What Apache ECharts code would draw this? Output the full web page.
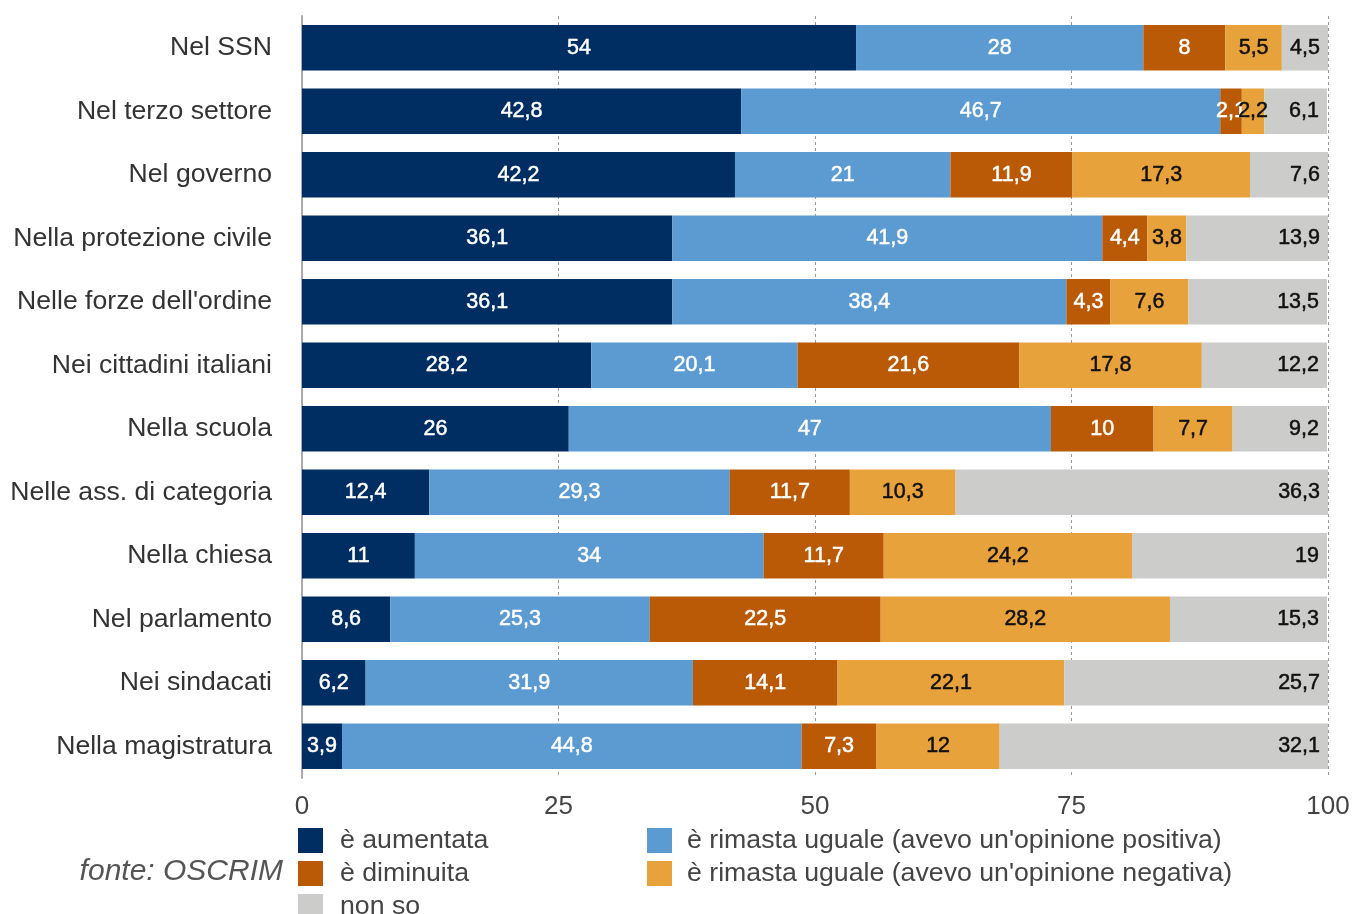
<!DOCTYPE html>
<html>
<head>
<meta charset="utf-8">
<script src="https://cdn.jsdelivr.net/npm/echarts@6/dist/echarts.min.js"></script>
<style>
  html, body { margin: 0; padding: 0; background: #fff; }
  #chart { width: 1354px; height: 914px; }
</style>
</head>
<body>
<div id="chart"></div>
<script>
// Fiducia nelle istituzioni: come è cambiata (%)
const categories = [
  'Nel SSN', 'Nel terzo settore', 'Nel governo', 'Nella protezione civile',
  "Nelle forze dell'ordine", 'Nei cittadini italiani', 'Nella scuola',
  'Nelle ass. di categoria', 'Nella chiesa', 'Nel parlamento',
  'Nei sindacati', 'Nella magistratura'
];
const aumentata   = [54, 42.8, 42.2, 36.1, 36.1, 28.2, 26, 12.4, 11, 8.6, 6.2, 3.9];
const ugualePos   = [28, 46.7, 21, 41.9, 38.4, 20.1, 47, 29.3, 34, 25.3, 31.9, 44.8];
const diminuita   = [8, 2.1, 11.9, 4.4, 4.3, 21.6, 10, 11.7, 11.7, 22.5, 14.1, 7.3];
const ugualeNeg   = [5.5, 2.2, 17.3, 3.8, 7.6, 17.8, 7.7, 10.3, 24.2, 28.2, 22.1, 12];
const nonSo       = [4.5, 6.1, 7.6, 13.9, 13.5, 12.2, 9.2, 36.3, 19, 15.3, 25.7, 32.1];
const axisTicks   = [0, 25, 50, 75, 100];

const seriesNames = [
  'è aumentata',
  "è rimasta uguale (avevo un'opinione positiva)",
  'è diminuita',
  "è rimasta uguale (avevo un'opinione negativa)",
  'non so'
];
const seriesData = [aumentata, ugualePos, diminuita, ugualeNeg, nonSo];
const colors = ['#002D62', '#5B9BD2', '#BA5A06', '#E8A23C', '#CCCCCB'];
const labelColors = ['#ffffff', '#ffffff', '#ffffff', '#111111', '#111111'];

const FONT = '"Liberation Sans", Arial, Helvetica, sans-serif';
const fmt = v => String(v).replace('.', ',');

const chart = echarts.init(document.getElementById('chart'));

const series = seriesData.map((data, i) => ({
  name: seriesNames[i],
  type: 'bar',
  stack: 'tot',
  data: data,
  barCategoryGap: '28%',
  itemStyle: { color: colors[i] },
  label: {
    show: true,
    position: i === 4 ? 'insideRight' : 'inside',
    distance: 8,
    color: labelColors[i],
    textBorderColor: labelColors[i],
    textBorderWidth: 0.5,
    fontFamily: FONT,
    fontSize: 21.5,
    formatter: p => fmt(p.value)
  }
}));

const legendText = { color: '#444', fontSize: 26.7, fontFamily: FONT };

chart.setOption({
  animation: false,
  backgroundColor: '#ffffff',
  color: colors,
  textStyle: { fontFamily: FONT },
  grid: { left: 302, right: 26, top: 16, bottom: 136, containLabel: false },
  xAxis: {
    type: 'value',
    min: axisTicks[0],
    max: axisTicks[axisTicks.length - 1],
    interval: 25,
    axisLine: { show: false },
    axisTick: { show: false },
    axisLabel: {
      color: '#444',
      fontSize: 26,
      fontFamily: FONT,
      margin: 16
    },
    splitLine: {
      show: true,
      lineStyle: { color: '#999', type: [3, 3], width: 1 }
    }
  },
  yAxis: {
    type: 'category',
    data: categories,
    inverse: true,
    axisLine: { show: true, lineStyle: { color: '#aaa', width: 2 } },
    axisTick: { show: false },
    axisLabel: {
      color: '#333',
      fontSize: 26.6,
      fontFamily: FONT,
      margin: 30
    }
  },
  legend: [
    {
      data: [seriesNames[0], seriesNames[2], seriesNames[4]],
      orient: 'horizontal',
      left: 298,
      top: 827,
      width: 240,
      padding: 0,
      itemWidth: 25,
      itemHeight: 25,
      itemGap: 6,
      icon: 'rect',
      selectedMode: false,
      textStyle: Object.assign({ padding: [0, 0, 0, 12] }, legendText)
    },
    {
      data: [seriesNames[1], seriesNames[3]],
      orient: 'horizontal',
      left: 647,
      top: 827,
      width: 640,
      padding: 0,
      itemWidth: 25,
      itemHeight: 25,
      itemGap: 6,
      icon: 'rect',
      selectedMode: false,
      textStyle: Object.assign({ padding: [0, 0, 0, 10] }, legendText)
    }
  ],
  graphic: [{
    type: 'text',
    right: 1354 - 283,
    top: 857,
    style: {
      text: 'fonte: OSCRIM',
      font: 'italic 30px ' + FONT,
      fill: '#555'
    }
  }],
  series: series
});
</script>
</body>
</html>
